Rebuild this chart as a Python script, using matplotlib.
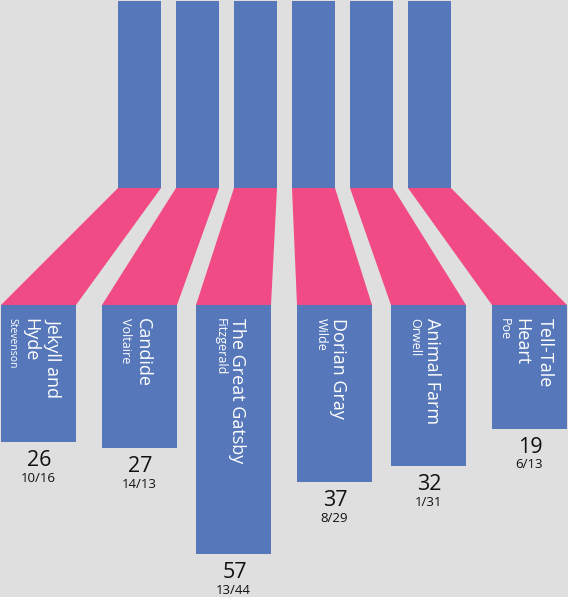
import matplotlib
matplotlib.use('Agg')
import matplotlib.pyplot as plt
from matplotlib.patches import Rectangle, Polygon

plt.rcParams['font.family'] = ['Open Sans', 'DejaVu Sans']

# data
titles = [['Jekyll and', 'Hyde'], ['Candide'], ['The Great Gatsby'],
          ['Dorian Gray'], ['Animal Farm'], ['Tell-Tale', 'Heart']]
authors = ['Stevenson', 'Voltaire', 'Fitzgerald', 'Wilde', 'Orwell', 'Poe']
totals = [26, 27, 57, 37, 32, 19]
first_part = [10, 14, 13, 8, 1, 6]
second_part = [16, 13, 44, 29, 31, 13]
bar_len = [137, 143, 249, 177, 161, 124]

bg = '#dfdfdf'
blue = '#5677b9'
pink = '#f04b84'

# layout (pixel space)
top_left = [118, 176, 234, 292, 350, 408]
top_w = 43
top_y0, top_y1 = 1, 188
low_left = [1, 102, 196, 297, 391, 492]
low_w = 75
low_y0 = 305
pitch = 23.5
author_fs = [7.5, 9, 9, 9, 9, 9]  # Stevenson is set smaller in the original

fig = plt.figure(figsize=(5.68, 5.97), dpi=100)
fig.patch.set_facecolor(bg)
ax = fig.add_axes([0, 0, 1, 1])
ax.set_xlim(0, 568)
ax.set_ylim(597, 0)
ax.axis('off')

for i in range(len(totals)):
    tx = top_left[i]
    lx = low_left[i]
    # upright narrow column
    ax.add_patch(Rectangle((tx, top_y0), top_w, top_y1 - top_y0, color=blue, lw=0))
    # pink floor piece
    ax.add_patch(Polygon([(tx, top_y1), (tx + top_w, top_y1),
                          (lx + low_w, low_y0), (lx, low_y0)], closed=True, color=pink, lw=0))
    # lower bar
    ax.add_patch(Rectangle((lx, low_y0), low_w, bar_len[i], color=blue, lw=0))

    cx = lx + low_w / 2
    n = len(titles[i])
    base = cx - 1.5 + (n - 1) * pitch / 2
    for j, line in enumerate(titles[i]):
        ax.text(base - j * pitch, 318, line, rotation=-90, rotation_mode='anchor',
                ha='left', va='baseline', color='white', fontsize=13)
    ax.text(base - 15.5 - (n - 1) * pitch, 318, authors[i], rotation=-90, rotation_mode='anchor',
            ha='left', va='baseline', color='white', fontsize=author_fs[i])

    bottom = low_y0 + bar_len[i]
    ax.text(cx + 1, bottom + 24, str(totals[i]), ha='center', va='baseline',
            color='#111111', fontsize=15.5)
    ax.text(cx, bottom + 39.5, '%d/%d' % (first_part[i], second_part[i]), ha='center',
            va='baseline', color='#111111', fontsize=9.5)

fig.savefig('out.png', dpi=100, facecolor=bg)
